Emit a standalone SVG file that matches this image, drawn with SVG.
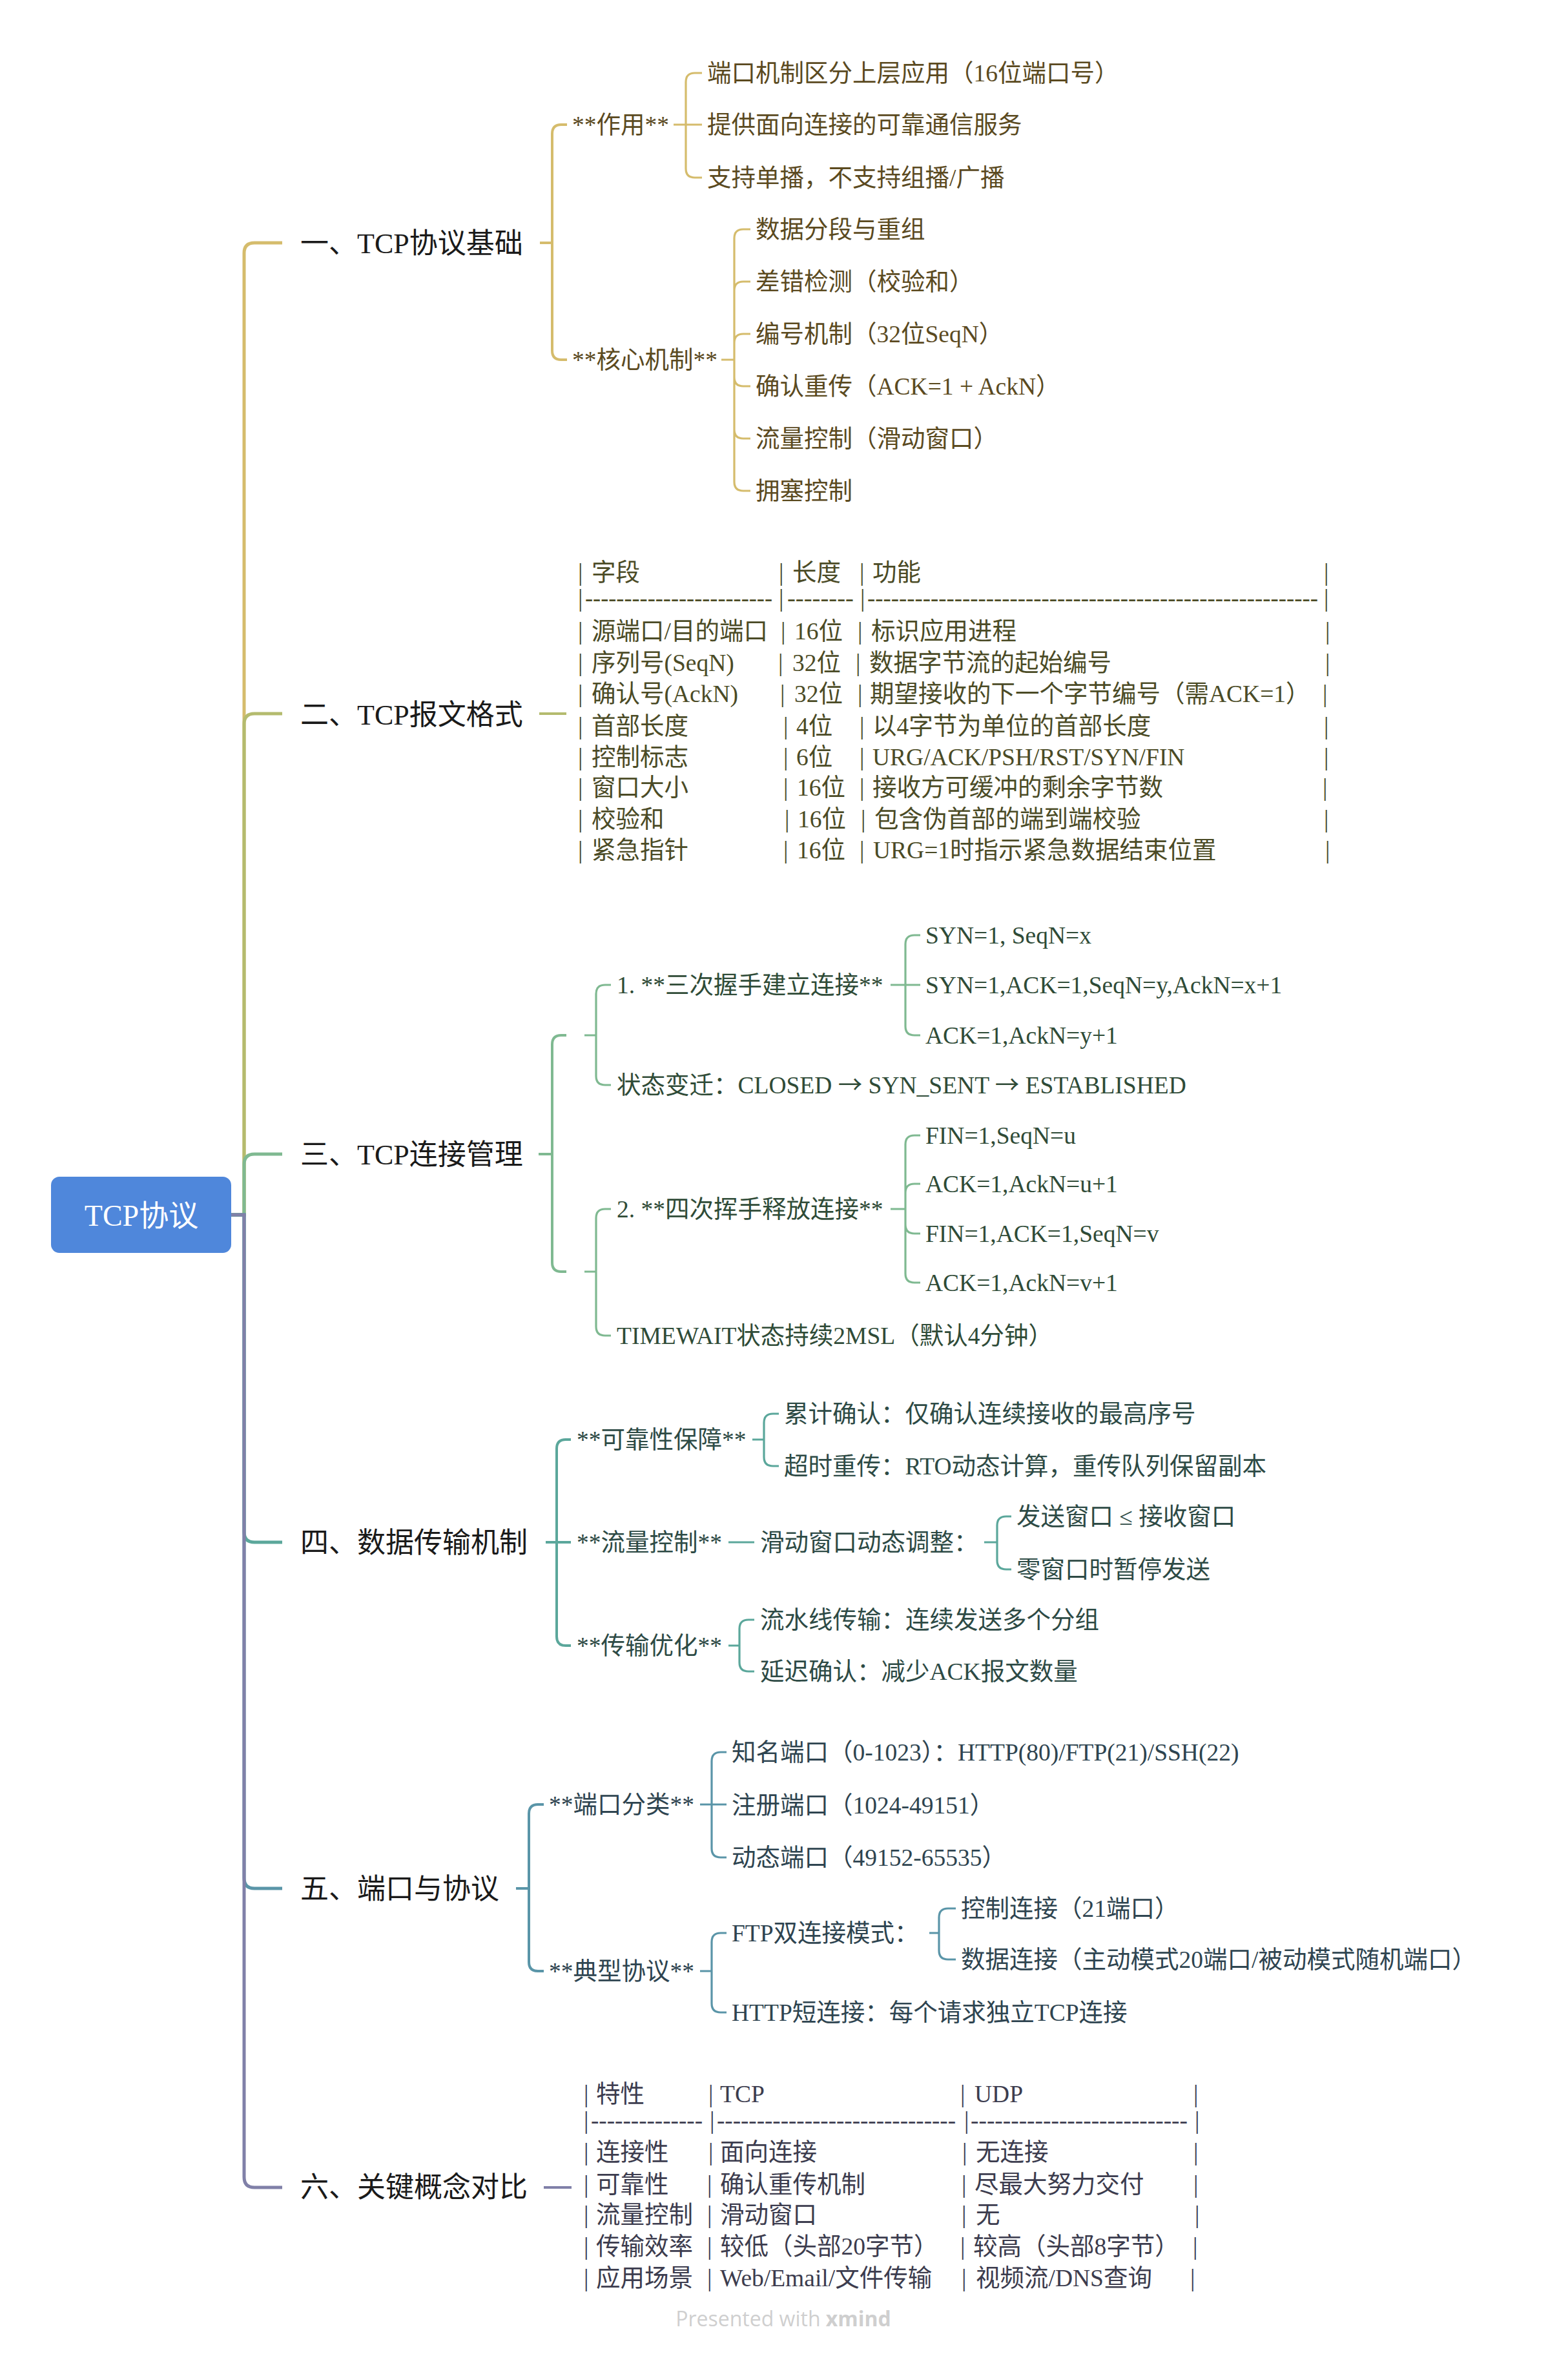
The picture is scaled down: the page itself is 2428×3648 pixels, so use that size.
<svg xmlns="http://www.w3.org/2000/svg" width="2428" height="3648" viewBox="0 0 2428 3648">
<style>
text{font-family:'Liberation Serif','Noto Sans CJK SC',serif}
.t{font-size:37.5px}
.l1{font-size:44px;fill:#1a1a1a}
.cjk{font-family:'Noto Sans CJK SC',sans-serif}
.c1{fill:#5B4A1F}.c2{fill:#4B4B26}.c3{fill:#2F4B37}.c4{fill:#2D4A45}.c5{fill:#2E4450}.c6{fill:#3C3C4E}
path{fill:none;stroke-linecap:butt}
.s{stroke-width:5}.m{stroke-width:4}.d{stroke-width:3.2}
.k1{stroke:#D5BC6C}.k2{stroke:#B4BB6E}.k3{stroke:#7FB991}.k4{stroke:#5BA79B}.k5{stroke:#5A95A8}.k6{stroke:#8080A8}
</style>
<rect width="2428" height="3648" fill="#ffffff"/>
<g id="connectors">
<path class="s k1" d="M358 1881 H378 V392 Q378 376 394 376 H437"/>
<path class="s k2" d="M358 1881 H378 V1121 Q378 1105 394 1105 H437"/>
<path class="s k3" d="M358 1881 H378 V1803 Q378 1787 394 1787 H437"/>
<path class="s k4" d="M358 1881 H378 V2372 Q378 2388 394 2388 H437"/>
<path class="s k5" d="M358 1881 H378 V2908 Q378 2924 394 2924 H437"/>
<path class="s k6" d="M358 1881 H378 V3371 Q378 3387 394 3387 H437"/>
<path class="m k1" d="M836 376 H855 V207 Q855 193 869 193 H878 M836 376 H855 V543 Q855 557 869 557 H878"/>
<path class="d k1" d="M1043 193 H1062 V127 Q1062 113 1076 113 H1087 M1043 193 H1087 M1043 193 H1062 V261 Q1062 275 1076 275 H1087"/>
<path class="d k1" d="M1117 557 H1137 V369 Q1137 355 1151 355 H1162 M1137 557 V450 Q1137 436 1151 436 H1162 M1137 557 V531 Q1137 517 1151 517 H1162 M1137 557 V584 Q1137 598 1151 598 H1162 M1137 557 V665 Q1137 679 1151 679 H1162 M1137 557 V746 Q1137 760 1151 760 H1162"/>
<path class="m k2" d="M835 1105 H877"/>
<path class="m k3" d="M834 1787 H855 V1617 Q855 1603 869 1603 H877 M834 1787 H855 V1955 Q855 1969 869 1969 H877"/>
<path class="d k3" d="M905 1603 H923 V1539 Q923 1525 937 1525 H946 M905 1603 H923 V1666 Q923 1680 937 1680 H946"/>
<path class="d k3" d="M1379 1525 H1402 V1462 Q1402 1448 1416 1448 H1425 M1379 1525 H1425 M1379 1525 H1402 V1589 Q1402 1603 1416 1603 H1425"/>
<path class="d k3" d="M905 1969 H923 V1886 Q923 1872 937 1872 H946 M905 1969 H923 V2054 Q923 2068 937 2068 H946"/>
<path class="d k3" d="M1379 1872 H1402 V1772 Q1402 1758 1416 1758 H1425 M1402 1872 V1847 Q1402 1833 1416 1833 H1425 M1402 1872 V1896 Q1402 1910 1416 1910 H1425 M1402 1872 V1972 Q1402 1986 1416 1986 H1425"/>
<path class="m k4" d="M845 2388 H862 V2243 Q862 2229 876 2229 H884 M845 2388 H884 M845 2388 H862 V2534 Q862 2548 876 2548 H884"/>
<path class="d k4" d="M1165 2229 H1183 V2203 Q1183 2189 1197 2189 H1206 M1165 2229 H1183 V2256 Q1183 2270 1197 2270 H1206"/>
<path class="d k4" d="M1128 2388 H1168"/>
<path class="d k4" d="M1524 2388 H1544 V2362 Q1544 2348 1558 2348 H1566 M1524 2388 H1544 V2416 Q1544 2430 1558 2430 H1566"/>
<path class="d k4" d="M1128 2548 H1145 V2522 Q1145 2508 1159 2508 H1168 M1128 2548 H1145 V2574 Q1145 2588 1159 2588 H1168"/>
<path class="m k5" d="M799 2924 H819 V2808 Q819 2794 833 2794 H842 M799 2924 H819 V3038 Q819 3052 833 3052 H842"/>
<path class="d k5" d="M1084 2794 H1102 V2727 Q1102 2713 1116 2713 H1125 M1084 2794 H1125 M1084 2794 H1102 V2862 Q1102 2876 1116 2876 H1125"/>
<path class="d k5" d="M1084 3052 H1102 V3007 Q1102 2993 1116 2993 H1125 M1084 3052 H1102 V3102 Q1102 3116 1116 3116 H1125"/>
<path class="d k5" d="M1439 2993 H1454 V2969 Q1454 2955 1468 2955 H1480 M1439 2993 H1454 V3020 Q1454 3034 1468 3034 H1480"/>
<path class="m k6" d="M842 3387 H885"/>
</g>
<g id="root">
<rect x="79" y="1822" width="279" height="118" rx="13" fill="#4F87DB"/>
<text x="219" y="1898" text-anchor="middle" font-size="46" fill="#ffffff">TCP协议</text>
</g>
<g id="b1">
<text class="l1" x="465" y="392">一、TCP协议基础</text>
<text class="t c1" x="886" y="206">**作用**</text>
<text class="t c1" x="1095" y="126">端口机制区分上层应用（16位端口号）</text>
<text class="t c1" x="1095" y="206">提供面向连接的可靠通信服务</text>
<text class="t c1" x="1095" y="288">支持单播，不支持组播/广播</text>
<text class="t c1" x="886" y="570">**核心机制**</text>
<text class="t c1" x="1170" y="368">数据分段与重组</text>
<text class="t c1" x="1170" y="449">差错检测（校验和）</text>
<text class="t c1" x="1170" y="530">编号机制（32位SeqN）</text>
<text class="t c1" x="1170" y="611">确认重传（ACK=1 + AckN）</text>
<text class="t c1" x="1170" y="692">流量控制（滑动窗口）</text>
<text class="t c1" x="1170" y="773">拥塞控制</text>
</g>
<g id="b2">
<text class="l1" x="465" y="1122">二、TCP报文格式</text>
<g class="t c2">
<text y="899"><tspan x="895">|</tspan><tspan x="916">字段</tspan><tspan x="1206">|</tspan><tspan x="1227">长度</tspan><tspan x="1331">|</tspan><tspan x="1351">功能</tspan><tspan x="2050">|</tspan></text>
<text y="939"><tspan x="895">|</tspan><tspan x="906" textLength="290" lengthAdjust="spacingAndGlyphs">------------------------</tspan><tspan x="1206">|</tspan><tspan x="1219" textLength="103" lengthAdjust="spacingAndGlyphs">--------</tspan><tspan x="1332">|</tspan><tspan x="1343" textLength="698" lengthAdjust="spacingAndGlyphs">---------------------------------------------------------</tspan><tspan x="2050">|</tspan></text>
<text y="990"><tspan x="895">|</tspan><tspan x="916">源端口/目的端口</tspan><tspan x="1209">|</tspan><tspan x="1230">16位</tspan><tspan x="1328">|</tspan><tspan x="1349">标识应用进程</tspan><tspan x="2052">|</tspan></text>
<text y="1039"><tspan x="895">|</tspan><tspan x="916">序列号(SeqN)</tspan><tspan x="1205">|</tspan><tspan x="1227">32位</tspan><tspan x="1325">|</tspan><tspan x="1346">数据字节流的起始编号</tspan><tspan x="2052">|</tspan></text>
<text y="1087"><tspan x="895">|</tspan><tspan x="916">确认号(AckN)</tspan><tspan x="1208">|</tspan><tspan x="1230">32位</tspan><tspan x="1328">|</tspan><tspan x="1347">期望接收的下一个字节编号（需ACK=1）</tspan><tspan x="2048">|</tspan></text>
<text y="1137"><tspan x="895">|</tspan><tspan x="916">首部长度</tspan><tspan x="1213">|</tspan><tspan x="1233">4位</tspan><tspan x="1331">|</tspan><tspan x="1351">以4字节为单位的首部长度</tspan><tspan x="2050">|</tspan></text>
<text y="1185"><tspan x="895">|</tspan><tspan x="916">控制标志</tspan><tspan x="1213">|</tspan><tspan x="1233">6位</tspan><tspan x="1331">|</tspan><tspan x="1351">URG/ACK/PSH/RST/SYN/FIN</tspan><tspan x="2050">|</tspan></text>
<text y="1232"><tspan x="895">|</tspan><tspan x="916">窗口大小</tspan><tspan x="1213">|</tspan><tspan x="1234">16位</tspan><tspan x="1331">|</tspan><tspan x="1351">接收方可缓冲的剩余字节数</tspan><tspan x="2048">|</tspan></text>
<text y="1281"><tspan x="895">|</tspan><tspan x="916">校验和</tspan><tspan x="1215">|</tspan><tspan x="1235">16位</tspan><tspan x="1333">|</tspan><tspan x="1354">包含伪首部的端到端校验</tspan><tspan x="2050">|</tspan></text>
<text y="1329"><tspan x="895">|</tspan><tspan x="916">紧急指针</tspan><tspan x="1213">|</tspan><tspan x="1234">16位</tspan><tspan x="1331">|</tspan><tspan x="1352">URG=1时指示紧急数据结束位置</tspan><tspan x="2052">|</tspan></text>
</g>
</g>
<g id="b3">
<text class="l1" x="465" y="1803">三、TCP连接管理</text>
<g id="b3-empty-a"></g>
<text class="t c3" x="955" y="1538">1. **三次握手建立连接**</text>
<text class="t c3" x="1433" y="1461">SYN=1, SeqN=x</text>
<text class="t c3" x="1433" y="1538">SYN=1,ACK=1,SeqN=y,AckN=x+1</text>
<text class="t c3" x="1433" y="1616">ACK=1,AckN=y+1</text>
<text class="t c3" x="955" y="1693">状态变迁：CLOSED <tspan class="cjk">→</tspan> SYN_SENT <tspan class="cjk">→</tspan> ESTABLISHED</text>
<g id="b3-empty-b"></g>
<text class="t c3" x="955" y="1885">2. **四次挥手释放连接**</text>
<text class="t c3" x="1433" y="1771">FIN=1,SeqN=u</text>
<text class="t c3" x="1433" y="1846">ACK=1,AckN=u+1</text>
<text class="t c3" x="1433" y="1923">FIN=1,ACK=1,SeqN=v</text>
<text class="t c3" x="1433" y="1999">ACK=1,AckN=v+1</text>
<text class="t c3" x="955" y="2081">TIMEWAIT状态持续2MSL（默认4分钟）</text>
</g>
<g id="b4">
<text class="l1" x="465" y="2404">四、数据传输机制</text>
<text class="t c4" x="893" y="2242">**可靠性保障**</text>
<text class="t c4" x="1214" y="2202">累计确认：仅确认连续接收的最高序号</text>
<text class="t c4" x="1214" y="2283">超时重传：RTO动态计算，重传队列保留副本</text>
<text class="t c4" x="893" y="2401">**流量控制**</text>
<text class="t c4" x="1177" y="2401">滑动窗口动态调整：</text>
<text class="t c4" x="1574" y="2361">发送窗口 ≤ 接收窗口</text>
<text class="t c4" x="1574" y="2443">零窗口时暂停发送</text>
<text class="t c4" x="893" y="2561">**传输优化**</text>
<text class="t c4" x="1177" y="2521">流水线传输：连续发送多个分组</text>
<text class="t c4" x="1177" y="2601">延迟确认：减少ACK报文数量</text>
</g>
<g id="b5">
<text class="l1" x="465" y="2940">五、端口与协议</text>
<text class="t c5" x="850" y="2807">**端口分类**</text>
<text class="t c5" x="1133" y="2726">知名端口（0-1023）：HTTP(80)/FTP(21)/SSH(22)</text>
<text class="t c5" x="1133" y="2808">注册端口（1024-49151）</text>
<text class="t c5" x="1133" y="2889">动态端口（49152-65535）</text>
<text class="t c5" x="850" y="3065">**典型协议**</text>
<text class="t c5" x="1133" y="3006">FTP双连接模式：</text>
<text class="t c5" x="1488" y="2968">控制连接（21端口）</text>
<text class="t c5" x="1488" y="3047">数据连接（主动模式20端口/被动模式随机端口）</text>
<text class="t c5" x="1133" y="3129">HTTP短连接：每个请求独立TCP连接</text>
</g>
<g id="b6">
<text class="l1" x="465" y="3402">六、关键概念对比</text>
<g class="t c6">
<text y="3255"><tspan x="904">|</tspan><tspan x="923">特性</tspan><tspan x="1097">|</tspan><tspan x="1115">TCP</tspan><tspan x="1487">|</tspan><tspan x="1509">UDP</tspan><tspan x="1848">|</tspan></text>
<text y="3296"><tspan x="904">|</tspan><tspan x="915" textLength="173" lengthAdjust="spacingAndGlyphs">--------------</tspan><tspan x="1099">|</tspan><tspan x="1110" textLength="370" lengthAdjust="spacingAndGlyphs">------------------------------</tspan><tspan x="1493">|</tspan><tspan x="1503" textLength="336" lengthAdjust="spacingAndGlyphs">---------------------------</tspan><tspan x="1850">|</tspan></text>
<text y="3345"><tspan x="904">|</tspan><tspan x="923">连接性</tspan><tspan x="1097">|</tspan><tspan x="1115">面向连接</tspan><tspan x="1490">|</tspan><tspan x="1511">无连接</tspan><tspan x="1848">|</tspan></text>
<text y="3395"><tspan x="904">|</tspan><tspan x="923">可靠性</tspan><tspan x="1095">|</tspan><tspan x="1115">确认重传机制</tspan><tspan x="1489">|</tspan><tspan x="1509">尽最大努力交付</tspan><tspan x="1848">|</tspan></text>
<text y="3442"><tspan x="904">|</tspan><tspan x="923">流量控制</tspan><tspan x="1095">|</tspan><tspan x="1115">滑动窗口</tspan><tspan x="1489">|</tspan><tspan x="1511">无</tspan><tspan x="1850">|</tspan></text>
<text y="3491"><tspan x="904">|</tspan><tspan x="923">传输效率</tspan><tspan x="1095">|</tspan><tspan x="1115">较低（头部20字节）</tspan><tspan x="1487">|</tspan><tspan x="1507">较高（头部8字节）</tspan><tspan x="1847">|</tspan></text>
<text y="3540"><tspan x="904">|</tspan><tspan x="923">应用场景</tspan><tspan x="1095">|</tspan><tspan x="1115">Web/Email/文件传输</tspan><tspan x="1489">|</tspan><tspan x="1511">视频流/DNS查询</tspan><tspan x="1843">|</tspan></text>
</g>
</g>
<text x="1213" y="3602" text-anchor="middle" style="font-family:'Open Sans','Noto Sans',sans-serif" font-size="32" fill="#CFCFCF">Presented with <tspan font-weight="bold">xmind</tspan></text>
</svg>
